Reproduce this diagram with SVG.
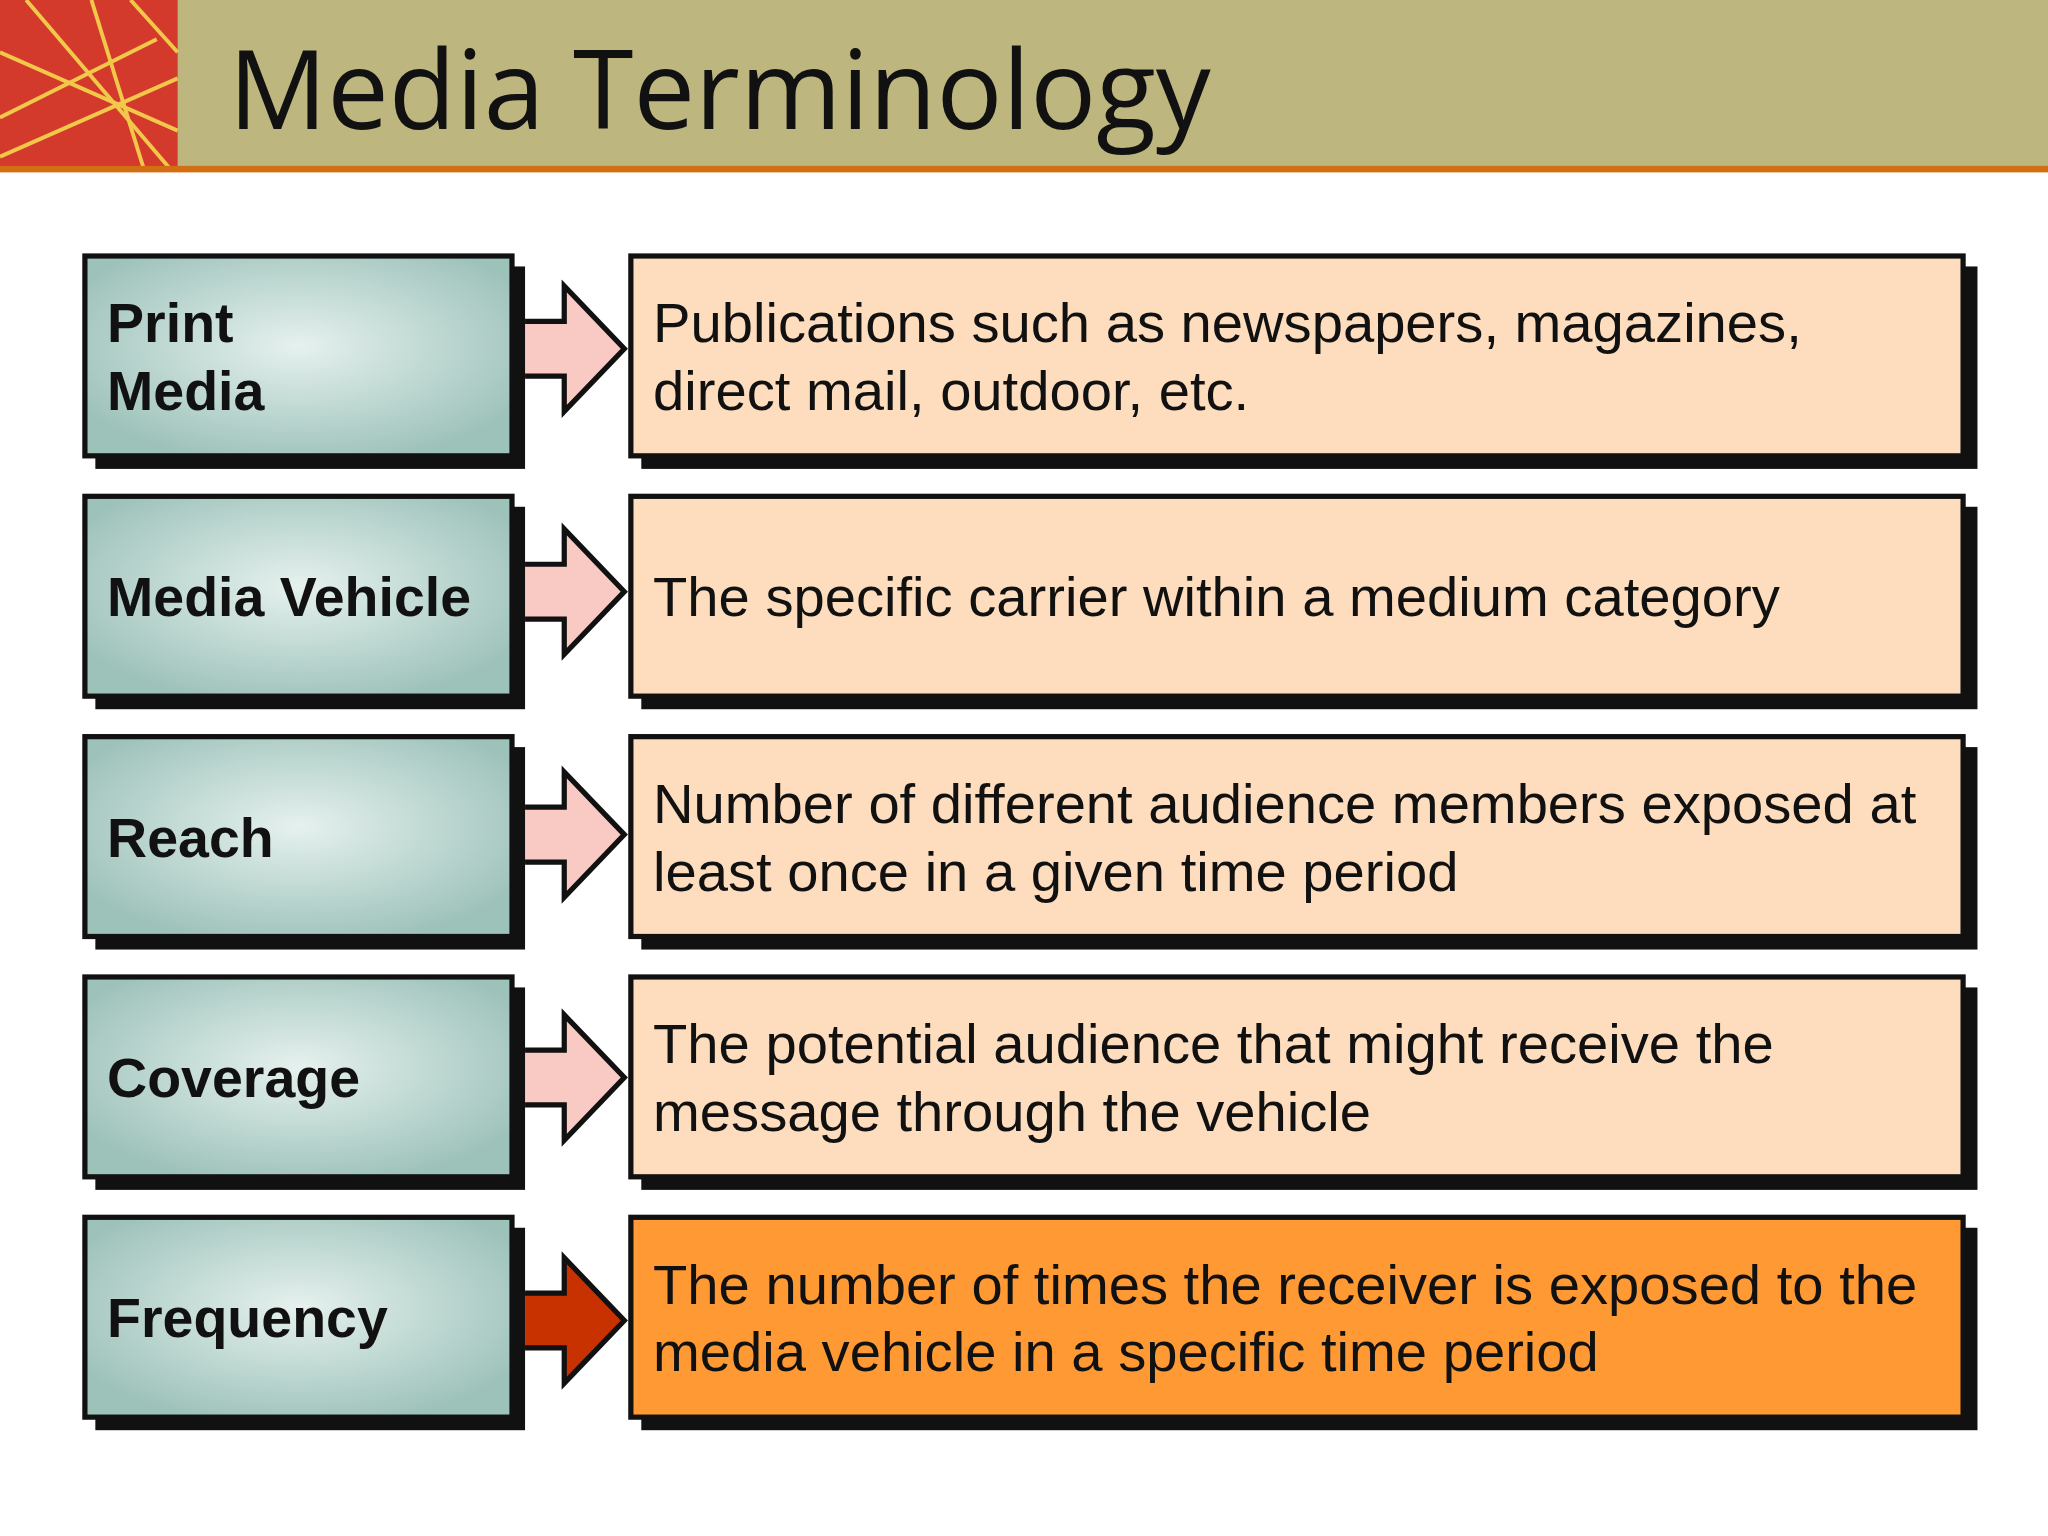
<svg xmlns="http://www.w3.org/2000/svg" width="2048" height="1536" viewBox="0 0 2048 1536">
<style>
.l{font-family:"Liberation Sans",Arial,sans-serif;font-weight:bold;font-size:42.5px;fill:#111}
.r{font-family:"Liberation Sans",Arial,sans-serif;font-size:43px;fill:#111}
.lb{fill:url(#g);stroke:#111;stroke-width:4}
.rb{fill:#FDDDBD;stroke:#111;stroke-width:4}
.sh{fill:#111}
.ar{fill:#F9C9C4;stroke:#111;stroke-width:4;stroke-linejoin:miter}
</style>
<defs>
<radialGradient id="g" cx="0.5" cy="0.45" r="0.6"><stop offset="0" stop-color="#E6F1EE"/><stop offset="1" stop-color="#9DC2BA"/></radialGradient>
<path id="arr" d="M402,-21 H432 V-48 L478,0 L432,48 V21 H402"/>
</defs>
<rect width="2048" height="1536" fill="#fff"/>
<g transform="scale(1.30612)">
<g id="header">
<rect x="0" y="0" width="1568" height="129" fill="#BEB67F"/>
<rect x="0" y="0" width="136" height="129" fill="#D33A2C"/>
<g stroke="#F2C84B" stroke-width="3" fill="none">
<path d="M0,40 L136,100"/><path d="M20,0 L130,129"/><path d="M0,90 L120,30"/><path d="M70,0 L110,129"/><path d="M0,120 L136,60"/><path d="M100,0 L136,40"/>
</g>
<rect x="0" y="127" width="1568" height="5" fill="#D26F12"/>
<text x="175" y="99" font-family="'Open Sans','Liberation Sans',sans-serif" font-size="84" fill="#111">Media Terminology</text>
</g>
<g id="connectors">
<use href="#arr" class="ar" transform="translate(0,267)"/>
<use href="#arr" class="ar" transform="translate(0,453)"/>
<use href="#arr" class="ar" transform="translate(0,639)"/>
<use href="#arr" class="ar" transform="translate(0,825)"/>
<use href="#arr" class="ar" style="fill:#C83200" transform="translate(0,1011)"/>
</g>
<g id="n1"><rect class="sh" x="73" y="204" width="329" height="155"/><rect class="lb" x="65" y="196" width="327" height="153"/><text class="l" x="82" y="262">Print</text><text class="l" x="82" y="314">Media</text></g>
<g id="d1"><rect class="sh" x="491" y="204" width="1023" height="155"/><rect class="rb" x="483" y="196" width="1020" height="153"/><text class="r" x="500" y="262">Publications such as newspapers, magazines,</text><text class="r" x="500" y="314">direct mail, outdoor, etc.</text></g>
<g id="n2"><rect class="sh" x="73" y="388" width="329" height="155"/><rect class="lb" x="65" y="380" width="327" height="153"/><text class="l" x="82" y="472">Media Vehicle</text></g>
<g id="d2"><rect class="sh" x="491" y="388" width="1023" height="155"/><rect class="rb" x="483" y="380" width="1020" height="153"/><text class="r" x="500" y="472">The specific carrier within a medium category</text></g>
<g id="n3"><rect class="sh" x="73" y="572" width="329" height="155"/><rect class="lb" x="65" y="564" width="327" height="153"/><text class="l" x="82" y="656">Reach</text></g>
<g id="d3"><rect class="sh" x="491" y="572" width="1023" height="155"/><rect class="rb" x="483" y="564" width="1020" height="153"/><text class="r" x="500" y="630">Number of different audience members exposed at</text><text class="r" x="500" y="682">least once in a given time period</text></g>
<g id="n4"><rect class="sh" x="73" y="756" width="329" height="155"/><rect class="lb" x="65" y="748" width="327" height="153"/><text class="l" x="82" y="840">Coverage</text></g>
<g id="d4"><rect class="sh" x="491" y="756" width="1023" height="155"/><rect class="rb" x="483" y="748" width="1020" height="153"/><text class="r" x="500" y="814">The potential audience that might receive the</text><text class="r" x="500" y="866">message through the vehicle</text></g>
<g id="n5"><rect class="sh" x="73" y="940" width="329" height="155"/><rect class="lb" x="65" y="932" width="327" height="153"/><text class="l" x="82" y="1024">Frequency</text></g>
<g id="d5"><rect class="sh" x="491" y="940" width="1023" height="155"/><rect class="rb" style="fill:#FF9933" x="483" y="932" width="1020" height="153"/><text class="r" x="500" y="998">The number of times the receiver is exposed to the</text><text class="r" x="500" y="1050">media vehicle in a specific time period</text></g>
</g>
</svg>
